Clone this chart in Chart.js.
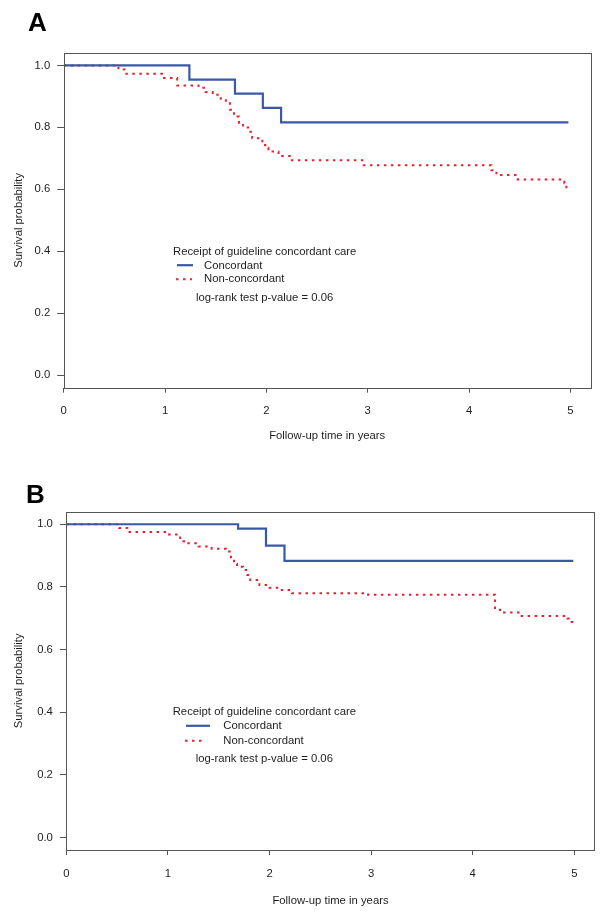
<!DOCTYPE html>
<html><head><meta charset="utf-8">
<script src="https://cdn.jsdelivr.net/npm/chart.js@4.4.1/dist/chart.umd.min.js"></script>
<style>
html,body{margin:0;padding:0;background:#fff;}
#wrapA{position:absolute;left:0;top:0;width:602px;height:460px;}
#wrapB{position:absolute;left:0;top:460px;width:602px;height:457px;}
canvas{display:block;}
</style></head><body>
<div id="wrapA"><canvas id="cA" width="602" height="460"></canvas></div>
<div id="wrapB"><canvas id="cB" width="602" height="457"></canvas></div>
<script>
// ---- data ----
const xTicks = [0, 1, 2, 3, 4, 5];
const yTicks = [0, 0.2, 0.4, 0.6, 0.8, 1.0];
const seriesNames = ["Concordant", "Non-concordant"];
const legendTitle = "Receipt of guideline concordant care";
const pValueText = "log-rank test p-value = 0.06";
const xTitle = "Follow-up time in years";
const yTitle = "Survival probability";

// Panel A
const timeAConc = [0, 1.24, 1.69, 1.965, 2.145, 4.98];
const survAConc = [1.0, 0.954, 0.909, 0.863, 0.816, 0.816];
const timeANon = [0, 0.54, 0.60, 0.97, 1.12, 1.33, 1.40, 1.47, 1.55, 1.60, 1.64, 1.68, 1.73, 1.77, 1.82, 1.86, 1.96, 1.99, 2.02, 2.12, 2.23, 2.96, 4.22, 4.27, 4.48, 4.94, 4.96, 4.97];
const survANon = [1.0, 0.987, 0.973, 0.959, 0.935, 0.928, 0.914, 0.905, 0.892, 0.878, 0.857, 0.835, 0.815, 0.800, 0.786, 0.765, 0.743, 0.734, 0.722, 0.708, 0.694, 0.678, 0.662, 0.646, 0.632, 0.620, 0.607, 0.607];

// Panel B
const timeBConc = [0, 1.69, 1.965, 2.147, 4.99];
const survBConc = [1.0, 0.986, 0.932, 0.883, 0.883];
const timeBNon = [0, 0.52, 0.60, 1.00, 1.12, 1.17, 1.30, 1.43, 1.57, 1.62, 1.65, 1.68, 1.74, 1.78, 1.81, 1.90, 2.00, 2.12, 2.22, 2.97, 4.22, 4.27, 4.47, 4.93, 4.96, 4.98, 4.99];
const survBNon = [1.0, 0.988, 0.975, 0.967, 0.946, 0.939, 0.929, 0.922, 0.913, 0.890, 0.873, 0.864, 0.854, 0.838, 0.822, 0.806, 0.797, 0.790, 0.780, 0.775, 0.727, 0.718, 0.707, 0.699, 0.688, 0.676, 0.676];

// ---- styling ----
const FONT = "'Liberation Sans', Arial, sans-serif";
const FS = 11.3;
const BLUE = '#3b58a8';
const RED = '#e5222f';
const AXIS = '#555555';
const TXT = '#1e1e1e';
const DASH = [2.5, 4.5];

function pts(t, s) { return t.map((v, i) => ({x: v, y: s[i]})); }

function makeChart(id, cfg) {
  const overlay = {
    id: 'overlay',
    afterDraw(chart) {
      const ctx = chart.ctx;
      const a = chart.chartArea;
      ctx.save();
      // plot box
      ctx.strokeStyle = AXIS;
      ctx.lineWidth = 1;
      ctx.strokeRect(Math.round(a.left) + 0.5, Math.round(a.top) + 0.5,
        Math.round(a.right - a.left), Math.round(a.bottom - a.top));
      // panel letter
      ctx.fillStyle = '#000';
      ctx.font = 'bold 26px ' + FONT;
      ctx.textBaseline = 'alphabetic';
      ctx.textAlign = 'left';
      ctx.fillText(cfg.letter, cfg.letterX, cfg.letterY);
      // legend
      const L = cfg.legend;
      ctx.font = FS + 'px ' + FONT;
      ctx.fillStyle = TXT;
      ctx.textBaseline = 'middle';
      ctx.fillText(legendTitle, L.titleX, L.titleY);
      ctx.fillText(seriesNames[0], L.textX, L.row1);
      ctx.fillText(seriesNames[1], L.textX, L.row2);
      ctx.fillText(pValueText, L.pX, L.pY);
      ctx.lineWidth = 2.2;
      ctx.strokeStyle = BLUE;
      ctx.beginPath();
      ctx.moveTo(L.lineX0, L.row1 - 0.5);
      ctx.lineTo(L.lineX1, L.row1 - 0.5);
      ctx.stroke();
      ctx.strokeStyle = RED;
      ctx.lineWidth = 2;
      ctx.setLineDash(DASH);
      ctx.beginPath();
      ctx.moveTo(L.dotX0, L.row2);
      ctx.lineTo(L.dotX1, L.row2);
      ctx.stroke();
      ctx.restore();
    }
  };
  return new Chart(document.getElementById(id), {
    type: 'line',
    data: {
      datasets: [
        {label: seriesNames[0], data: pts(cfg.tc, cfg.sc), borderColor: BLUE, borderWidth: 2.2,
         stepped: 'before', pointRadius: 0, fill: false, tension: 0},
        {label: seriesNames[1], data: pts(cfg.tn, cfg.sn), borderColor: RED, borderWidth: 2,
         borderDash: DASH, stepped: 'before', pointRadius: 0, fill: false, tension: 0}
      ]
    },
    options: {
      responsive: false,
      animation: false,
      events: [],
      layout: {padding: {left: 0, right: cfg.padR, top: cfg.padT, bottom: 0}},
      plugins: {legend: {display: false}, tooltip: {enabled: false}, title: {display: false}},
      scales: {
        x: {
          type: 'linear', min: 0, max: 5.2,
          afterBuildTicks: s => { s.ticks = xTicks.map(v => ({value: v})); },
          afterFit: s => { s.height = cfg.xH; },
          ticks: {autoSkip: false, maxRotation: 0, padding: cfg.xPad, color: TXT,
                  font: {family: FONT, size: FS}, callback: v => String(v)},
          grid: {display: true, drawOnChartArea: false, drawTicks: true, tickLength: 5, color: AXIS, lineWidth: 1},
          border: {display: false},
          title: {display: true, text: xTitle, color: TXT, font: {family: FONT, size: FS},
                  padding: {top: 0, bottom: cfg.xTitlePad}}
        },
        y: {
          type: 'linear', min: -0.04, max: 1.04,
          afterBuildTicks: s => { s.ticks = yTicks.map(v => ({value: v})); },
          afterFit: s => { s.width = cfg.yW; },
          ticks: {autoSkip: false, padding: 7, color: TXT, font: {family: FONT, size: FS},
                  callback: v => Number(v).toFixed(1)},
          grid: {display: true, drawOnChartArea: false, drawTicks: true, tickLength: 6.5, color: AXIS, lineWidth: 1},
          border: {display: false},
          title: {display: true, text: yTitle, color: TXT, font: {family: FONT, size: FS},
                  padding: {top: 12, bottom: 0}}
        }
      }
    },
    plugins: [overlay]
  });
}

makeChart('cA', {
  tc: timeAConc, sc: survAConc, tn: timeANon, sn: survANon,
  padR: 11.3, padT: 53, xH: 72.3, yW: 63.7, xPad: 11, xTitlePad: 17,
  letter: 'A', letterX: 28, letterY: 31,
  legend: {titleX: 173, titleY: 252.3, textX: 204, row1: 265.7, row2: 279.2,
           lineX0: 177, lineX1: 193, dotX0: 176, dotX1: 192, pX: 196, pY: 297.5}
});
makeChart('cB', {
  tc: timeBConc, sc: survBConc, tn: timeBNon, sn: survBNon,
  padR: 7.4, padT: 51.7, xH: 67, yW: 66.4, xPad: 12, xTitlePad: 9,
  letter: 'B', letterX: 26, letterY: 43,
  legend: {titleX: 172.7, titleY: 252.3, textX: 223.3, row1: 266.3, row2: 280.7,
           lineX0: 186, lineX1: 210, dotX0: 185, dotX1: 206, pX: 195.7, pY: 299.3}
});
</script>
</body></html>
